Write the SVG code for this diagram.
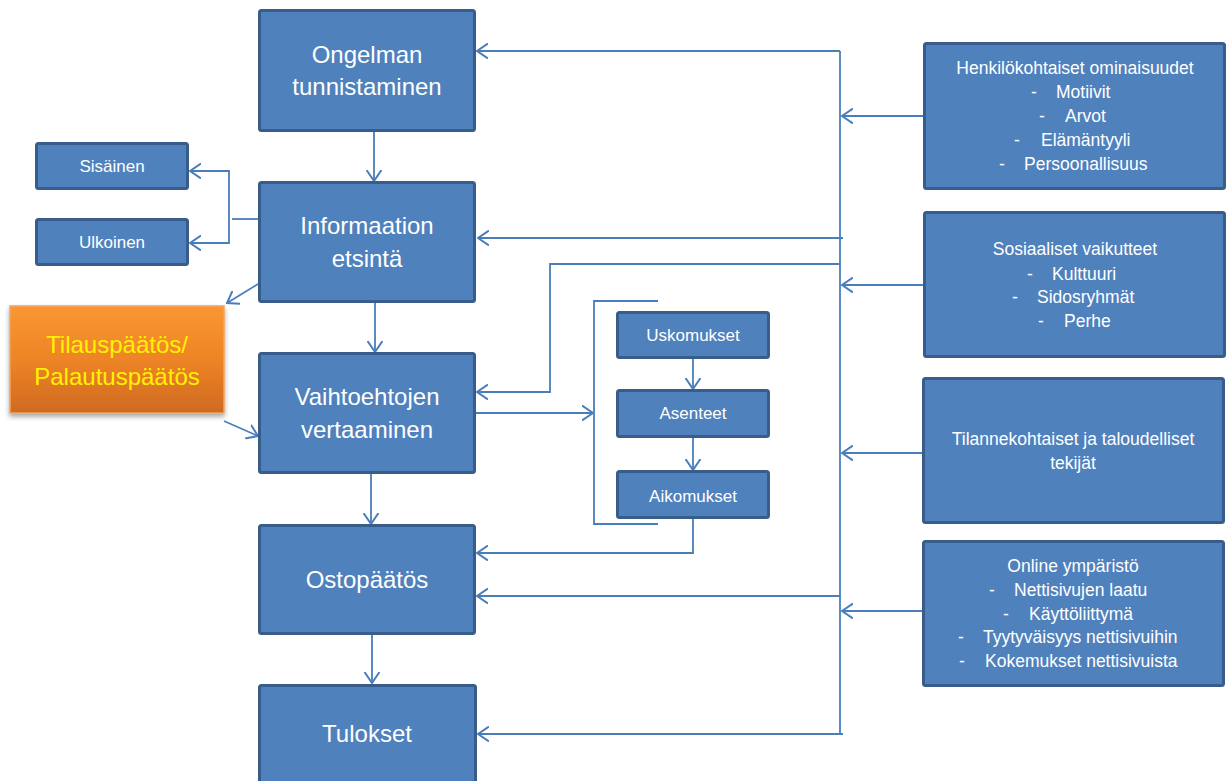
<svg xmlns="http://www.w3.org/2000/svg" width="1227" height="781" viewBox="0 0 1227 781">
<defs>
<style>
.box{fill:#4F81BD;stroke:#385D8A;stroke-width:3}
.big{font-family:"Liberation Sans",Arial,sans-serif;font-size:24px;fill:#fff;text-anchor:middle}
.sm{font-family:"Liberation Sans",Arial,sans-serif;font-size:17px;fill:#fff;text-anchor:middle}
.rt{font-family:"Liberation Sans",Arial,sans-serif;font-size:17.5px;fill:#fff;text-anchor:middle}
.rs{font-family:"Liberation Sans",Arial,sans-serif;font-size:17.5px;fill:#fff;text-anchor:start}
.or{font-family:"Liberation Sans",Arial,sans-serif;font-size:24px;fill:#FFF200;text-anchor:middle}
.c{fill:none;stroke:#4A7EBB;stroke-width:1.8}
</style>
<marker id="ah" viewBox="0 0 12 16" refX="11" refY="8" markerWidth="12" markerHeight="16" markerUnits="userSpaceOnUse" orient="auto">
<path d="M0,0.5 L11,8 L0,15.5" fill="none" stroke="#4A7EBB" stroke-width="2"/>
</marker>
<linearGradient id="og" x1="0" y1="0" x2="0" y2="1">
<stop offset="0" stop-color="#FA9632"/>
<stop offset="0.5" stop-color="#EE8426"/>
<stop offset="1" stop-color="#CF6A1F"/>
</linearGradient>
<filter id="sh" x="-10%" y="-10%" width="120%" height="130%">
<feDropShadow dx="0" dy="3" stdDeviation="2.5" flood-color="#000" flood-opacity="0.35"/>
</filter>
</defs>

<g id="connectors">
<path class="c" d="M374,131 V181" marker-end="url(#ah)"/>
<path class="c" d="M375,302 V352" marker-end="url(#ah)"/>
<path class="c" d="M371,473 V524" marker-end="url(#ah)"/>
<path class="c" d="M372,634 V683" marker-end="url(#ah)"/>
<path class="c" d="M258,219 H232"/>
<path class="c" d="M229,219 V171 H190" marker-end="url(#ah)"/>
<path class="c" d="M229,219 V243 H190" marker-end="url(#ah)"/>
<path class="c" d="M258,284 L227,303" marker-end="url(#ah)"/>
<path class="c" d="M224,421 L258,436" marker-end="url(#ah)"/>
<path class="c" d="M840,51 V735"/>
<path class="c" d="M840,51 H477" marker-end="url(#ah)"/>
<path class="c" d="M843,238 H478" marker-end="url(#ah)"/>
<path class="c" d="M840,264 H550 V392 H477" marker-end="url(#ah)"/>
<path class="c" d="M840,596 H477" marker-end="url(#ah)"/>
<path class="c" d="M843,734 H478" marker-end="url(#ah)"/>
<path class="c" d="M924,116 H842" marker-end="url(#ah)"/>
<path class="c" d="M924,285 H842" marker-end="url(#ah)"/>
<path class="c" d="M923,453 H842" marker-end="url(#ah)"/>
<path class="c" d="M923,611 H842" marker-end="url(#ah)"/>
<path class="c" d="M475,413 H593" marker-end="url(#ah)"/>
<path class="c" d="M658,301 H594 V524 H658"/>
<path class="c" d="M693,358 V389" marker-end="url(#ah)"/>
<path class="c" d="M693,437 V470" marker-end="url(#ah)"/>
<path class="c" d="M693,518 V553 H477" marker-end="url(#ah)"/>
</g>

<g id="ongelman">
<rect class="box" x="259.5" y="10.5" width="215" height="120" rx="2"/>
<text class="big" x="367" y="63">Ongelman</text>
<text class="big" x="367" y="95">tunnistaminen</text>
</g>
<g id="informaatio">
<rect class="box" x="259.5" y="182.5" width="215" height="119" rx="2"/>
<text class="big" x="367" y="234">Informaation</text>
<text class="big" x="367" y="267">etsintä</text>
</g>
<g id="vaihtoehtojen">
<rect class="box" x="259.5" y="353.5" width="215" height="119" rx="2"/>
<text class="big" x="367" y="405">Vaihtoehtojen</text>
<text class="big" x="367" y="438">vertaaminen</text>
</g>
<g id="ostopaatos">
<rect class="box" x="259.5" y="525.5" width="215" height="108" rx="2"/>
<text class="big" x="367" y="588">Ostopäätös</text>
</g>
<g id="tulokset">
<rect class="box" x="259.5" y="685.5" width="216" height="120" rx="2"/>
<text class="big" x="367" y="742">Tulokset</text>
</g>

<g id="sisainen">
<rect class="box" x="36.5" y="143.5" width="151" height="45" rx="2"/>
<text class="sm" x="112" y="172">Sisäinen</text>
</g>
<g id="ulkoinen">
<rect class="box" x="36.5" y="219.5" width="151" height="45" rx="2"/>
<text class="sm" x="112" y="248">Ulkoinen</text>
</g>

<g id="tilauspaatos">
<rect x="10" y="306" width="214" height="107" fill="url(#og)" stroke="#F5A45C" stroke-width="1.5" filter="url(#sh)"/>
<text class="or" x="117" y="353">Tilauspäätös/</text>
<text class="or" x="117" y="385">Palautuspäätös</text>
</g>

<g id="uskomukset">
<rect class="box" x="617.5" y="312.5" width="151" height="45" rx="2"/>
<text class="sm" x="693" y="341">Uskomukset</text>
</g>
<g id="asenteet">
<rect class="box" x="617.5" y="390.5" width="151" height="46" rx="2"/>
<text class="sm" x="693" y="419">Asenteet</text>
</g>
<g id="aikomukset">
<rect class="box" x="617.5" y="471.5" width="151" height="46" rx="2"/>
<text class="sm" x="693" y="502">Aikomukset</text>
</g>

<g id="henkilokohtaiset">
<rect class="box" x="924.5" y="43.5" width="300" height="145" rx="2"/>
<text class="rt" x="1075" y="74">Henkilökohtaiset ominaisuudet</text>
<text class="rt" x="1034" y="98">-</text><text class="rs" x="1056" y="98">Motiivit</text>
<text class="rt" x="1042" y="122">-</text><text class="rs" x="1065" y="122">Arvot</text>
<text class="rt" x="1017" y="146">-</text><text class="rs" x="1041" y="146">Elämäntyyli</text>
<text class="rt" x="1002" y="170">-</text><text class="rs" x="1024" y="170">Persoonallisuus</text>
</g>
<g id="sosiaaliset">
<rect class="box" x="924.5" y="212.5" width="300" height="144" rx="2"/>
<text class="rt" x="1075" y="255">Sosiaaliset vaikutteet</text>
<text class="rt" x="1030" y="280">-</text><text class="rs" x="1052" y="280">Kulttuuri</text>
<text class="rt" x="1015" y="303">-</text><text class="rs" x="1037" y="303">Sidosryhmät</text>
<text class="rt" x="1041" y="327">-</text><text class="rs" x="1064" y="327">Perhe</text>
</g>
<g id="tilannekohtaiset">
<rect class="box" x="923.5" y="378.5" width="300" height="144" rx="2"/>
<text class="rt" x="1073" y="445">Tilannekohtaiset ja taloudelliset</text>
<text class="rt" x="1073" y="469">tekijät</text>
</g>
<g id="online">
<rect class="box" x="923.5" y="541.5" width="300" height="144" rx="2"/>
<text class="rt" x="1073" y="572">Online ympäristö</text>
<text class="rt" x="992" y="596">-</text><text class="rs" x="1014" y="596">Nettisivujen laatu</text>
<text class="rt" x="1006" y="620">-</text><text class="rs" x="1029" y="620">Käyttöliittymä</text>
<text class="rt" x="961" y="643">-</text><text class="rs" x="983" y="643">Tyytyväisyys nettisivuihin</text>
<text class="rt" x="962" y="667">-</text><text class="rs" x="985" y="667">Kokemukset nettisivuista</text>
</g>
</svg>
